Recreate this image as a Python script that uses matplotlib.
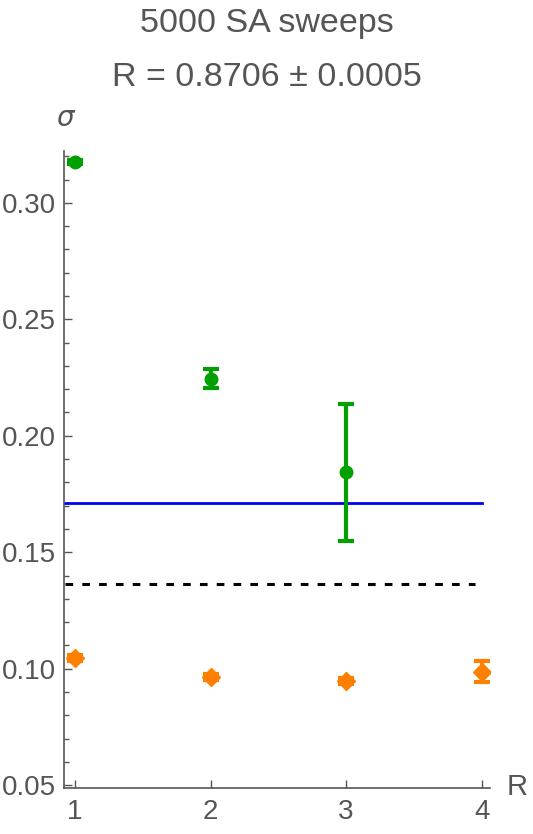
import matplotlib
matplotlib.use('Agg')
from matplotlib import pyplot as plt
from matplotlib.ticker import MultipleLocator

plt.rcParams['font.family'] = ['Liberation Sans', 'DejaVu Sans']

# green series (sigma vs R)
greenR = [1, 2, 3]
greenSigma = [0.3176, 0.2245, 0.1843]
greenErr = [0.0008, 0.0042, 0.0293]

# orange series
orangeR = [1, 2, 3, 4]
orangeSigma = [0.1046, 0.0964, 0.0947, 0.0986]
orangeErr = [0.0012, 0.0012, 0.0012, 0.0045]

blueLevel = 0.1711
dottedLevel = 0.1363

gray = '#555555'

fig = plt.figure(figsize=(5.33, 8.34), dpi=100)
ax = fig.add_axes([0.120, 0.055, 0.799, 0.764])

ax.plot([0.92, 4.0], [blueLevel, blueLevel], color='#0000ee', lw=2, zorder=1)
ax.plot([0.93, 3.95], [dottedLevel, dottedLevel], color='black', lw=2.2,
        linestyle=(0, (2.5, 3)), zorder=1)

ax.errorbar(greenR, greenSigma, yerr=greenErr, fmt='o', color='#00a000',
            ms=9, elinewidth=3, capsize=6, capthick=3, zorder=3)
ax.errorbar(orangeR, orangeSigma, yerr=orangeErr, fmt='D', color='#ff8000',
            ms=9, elinewidth=3, capsize=6, capthick=3, zorder=3)

ax.set_xlim(0.919, 4.06)
ax.set_ylim(0.0487, 0.3223)
ax.xaxis.set_major_locator(MultipleLocator(1))
ax.yaxis.set_major_locator(MultipleLocator(0.05))
ax.yaxis.set_minor_locator(MultipleLocator(0.01))
ax.yaxis.set_major_formatter(plt.FormatStrFormatter('%.2f'))

for s in ['top', 'right']:
    ax.spines[s].set_visible(False)
for s in ['left', 'bottom']:
    ax.spines[s].set_color(gray)
    ax.spines[s].set_linewidth(1.2)

ax.tick_params(axis='both', which='major', direction='in', length=6,
               color=gray, labelcolor=gray, labelsize=20, width=1)
ax.tick_params(axis='y', which='minor', direction='in', length=3.5,
               color=gray, width=1)
ax.tick_params(axis='x', pad=8)
ax.tick_params(axis='y', pad=6)

fig.text(0.5, 0.972, '5000 SA sweeps', ha='center', va='center',
         fontsize=24.5, color=gray)
fig.text(0.5, 0.907, 'R = 0.8706 ± 0.0005', ha='center', va='center',
         fontsize=24.5, color=gray)
fig.text(0.122, 0.858, 'σ', ha='center', va='center', fontsize=20,
         color=gray, style='italic', family=['DejaVu Sans'])
fig.text(0.971, 0.056, 'R', ha='center', va='center', fontsize=21,
         color=gray)

fig.savefig('out.png', dpi=100)
